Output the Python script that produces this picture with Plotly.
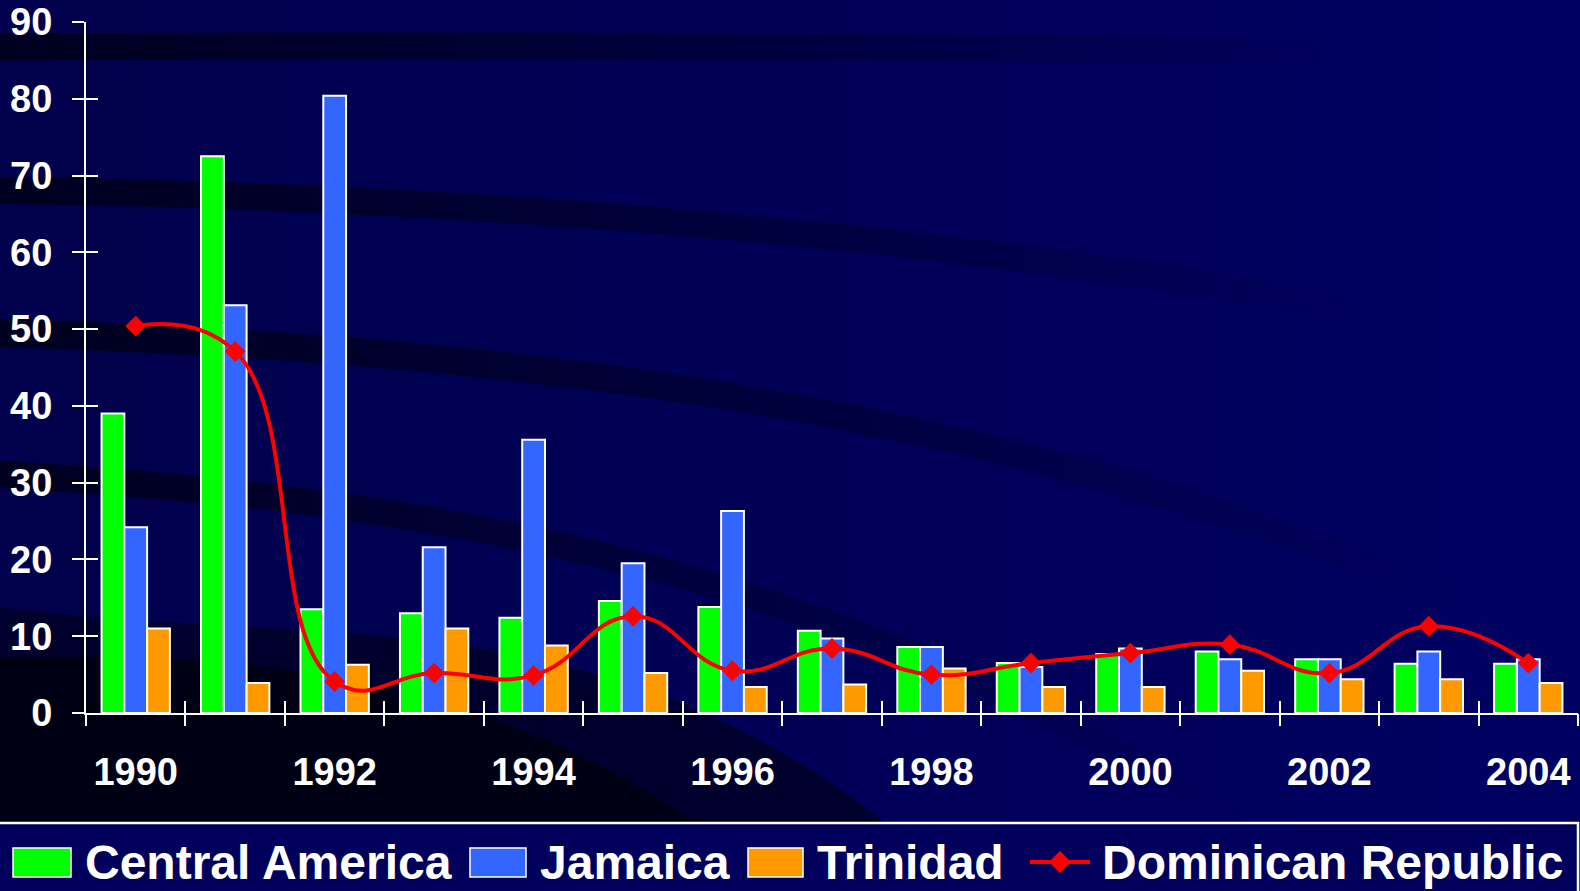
import base64
import struct
import zlib

import numpy as np
import plotly.graph_objects as go

# ---- data -------------------------------------------------------------
years = list(range(1990, 2005))
central_america = [39.0, 72.5, 13.5, 13.0, 12.4, 14.6, 13.8, 10.7, 8.6, 6.5, 7.7, 8.0, 7.0, 6.4, 6.4]
jamaica = [24.2, 53.1, 80.4, 21.6, 35.6, 19.5, 26.3, 9.7, 8.6, 6.0, 8.4, 7.0, 7.0, 8.0, 7.0]
trinidad = [11.0, 3.9, 6.3, 11.0, 8.8, 5.2, 3.4, 3.7, 5.8, 3.4, 3.4, 5.5, 4.4, 4.4, 3.9]
dominican_republic = [50.4, 47.1, 4.1, 5.2, 4.9, 12.6, 5.5, 8.4, 5.0, 6.5, 7.8, 8.9, 5.2, 11.3, 6.5]

series_names = ["Central America", "Jamaica", "Trinidad", "Dominican Republic"]
y_ticks = list(range(0, 91, 10))
x_label_years = list(range(1990, 2005, 2))

# ---- page geometry ----------------------------------------------------
W, H = 1580, 891
ML, MR, MT, MB = 86, 2, 22, 178
PW, PH = W - ML - MR, H - MT - MB

GREEN, BLUE, ORANGE, RED = "#00ff00", "#3366ff", "#ff9900", "#ff0000"
FONT = "Liberation Sans, Arial, sans-serif"


def px_x(p):
    return (p - ML) / PW


def px_y(p):
    return (H - MB - p) / PH


# ---- slide background (navy with dark swooshes) ----------------------
def curve(points, x):
    xs, ys = zip(*points)
    coef = np.polyfit(xs, ys, min(3, len(xs) - 1))
    return np.polyval(coef, x)


def background():
    x = np.arange(W, dtype=float)[None, :]
    y = np.arange(H, dtype=float)[:, None]
    blue = 0x4c + (0x62 - 0x4c) * (x / W) + 0 * y
    out = blue.copy()

    bands = [
        ([(0, 46.5), (600, 46), (1000, 48), (1500, 52)], 13.5, 0, 1350),
        ([(0, 190), (300, 198), (600, 216), (1000, 255), (1300, 300), (1556, 347)], 13.5, 0, 1380),
        ([(0, 333), (400, 352), (600, 381), (1174, 496), (1404, 578)], 14, 0, 1450),
        ([(0, 475), (408, 508), (600, 568), (800, 606), (1000, 690), (1150, 770)], 13.5, 0, 1250),
    ]
    for pts, hw, f0, f1 in bands:
        yc = curve(pts, x)
        cov = np.clip(hw + 0.5 - np.abs(y - yc), 0, 1)
        fade = np.clip((f1 - x) / (f1 - f0), 0, 1)
        a = cov * fade
        out = out * (1 - a) + 0x20 * a

    regions = [
        ([(0, 607), (320, 630), (640, 690), (800, 760), (880, 820)], 0x2c),
        ([(0, 657), (300, 672), (500, 720), (640, 790), (700, 825)], 0x14),
    ]
    for pts, shade in regions:
        yb = curve(pts, x)
        limit = pts[-1][0] + 40
        yb = np.where(x > limit, 1e5, yb)
        a = np.clip(y - yb + 0.5, 0, 1)
        out = out * (1 - a) + shade * a

    rgb = np.zeros((H, W, 3), dtype=np.uint8)
    rgb[..., 2] = np.clip(out, 0, 255).astype(np.uint8)
    return rgb


def png_uri(rgb):
    h, w, _ = rgb.shape
    raw = b"".join(b"\x00" + rgb[i].tobytes() for i in range(h))

    def chunk(tag, data):
        body = tag + data
        return struct.pack(">I", len(data)) + body + struct.pack(">I", zlib.crc32(body) & 0xFFFFFFFF)

    png = (b"\x89PNG\r\n\x1a\n"
           + chunk(b"IHDR", struct.pack(">IIBBBBB", w, h, 8, 2, 0, 0, 0))
           + chunk(b"IDAT", zlib.compress(raw, 9))
           + chunk(b"IEND", b""))
    return "data:image/png;base64," + base64.b64encode(png).decode()


# ---- traces -----------------------------------------------------------
fig = go.Figure()
bar_line = dict(color="white", width=2)
for name, vals, col in [(series_names[0], central_america, GREEN),
                        (series_names[1], jamaica, BLUE),
                        (series_names[2], trinidad, ORANGE)]:
    fig.add_trace(go.Bar(x=years, y=vals, name=name,
                         marker=dict(color=col, line=bar_line)))

fig.add_trace(go.Scatter(
    x=years, y=dominican_republic, name=series_names[3], mode="lines+markers",
    line=dict(color=RED, width=4, shape="spline", smoothing=1.3),
    marker=dict(symbol="diamond", size=16, color=RED),
))

# empty traces so the tick-only overlay axes get drawn
fig.add_trace(go.Scatter(x=[], y=[], xaxis="x2", yaxis="y", showlegend=False, hoverinfo="skip"))
fig.add_trace(go.Scatter(x=[], y=[], xaxis="x3", yaxis="y", showlegend=False, hoverinfo="skip"))
fig.add_trace(go.Scatter(x=[], y=[], xaxis="x", yaxis="y2", showlegend=False, hoverinfo="skip"))

# ---- axes -------------------------------------------------------------
x_range = [years[0] - 0.5, years[-1] + 0.5]
boundaries = [v - 0.5 for v in years] + [years[-1] + 0.5]
tick_font = dict(family=FONT, size=38, color="white", weight="bold")

common_x = dict(range=x_range, showgrid=False, zeroline=False, fixedrange=True)
fig.update_layout(
    xaxis=dict(**common_x, tickvals=x_label_years, ticktext=[str(v) for v in x_label_years],
               ticks="", tickfont=tick_font, ticklabelstandoff=24,
               showline=True, linecolor="white", linewidth=2),
    xaxis2=dict(**common_x, overlaying="x", anchor="y", side="bottom",
                tickvals=boundaries, ticks="outside", ticklen=12, tickwidth=2,
                tickcolor="white", showticklabels=False, showline=False),
    xaxis3=dict(**common_x, overlaying="x", anchor="y", side="bottom",
                tickvals=boundaries, ticks="inside", ticklen=12, tickwidth=2,
                tickcolor="white", showticklabels=False, showline=False),
    yaxis=dict(range=[0, 90], tickvals=y_ticks, ticks="outside", ticklen=12, tickwidth=2,
               tickcolor="white", tickfont=tick_font, ticklabelstandoff=12,
               showline=True, linecolor="white", linewidth=2,
               showgrid=False, zeroline=False, fixedrange=True),
    yaxis2=dict(range=[0, 90], overlaying="y", anchor="x", side="left",
                tickvals=y_ticks, ticks="inside", ticklen=12, tickwidth=2,
                tickcolor="white", showticklabels=False, showline=False,
                showgrid=False, zeroline=False, fixedrange=True),
)

# ---- legend band ------------------------------------------------------
shapes = [dict(type="rect", xref="paper", yref="paper",
               x0=px_x(-10), x1=px_x(1578), y0=px_y(823), y1=px_y(905),
               line=dict(color="white", width=2.5), fillcolor="#00005c", layer="below")]
annotations = []
swatches = [(13, 71, GREEN), (470, 526, BLUE), (748, 803, ORANGE)]
for x0, x1, col in swatches:
    shapes.append(dict(type="rect", xref="paper", yref="paper",
                       x0=px_x(x0), x1=px_x(x1), y0=px_y(848), y1=px_y(877),
                       line=dict(color="white", width=1.5), fillcolor=col))
shapes.append(dict(type="line", xref="paper", yref="paper",
                   x0=px_x(1030), x1=px_x(1090), y0=px_y(862), y1=px_y(862),
                   line=dict(color=RED, width=4)))
cx, cy, r = 1060, 862, 11
shapes.append(dict(type="path", xref="paper", yref="paper",
                   path=f"M {px_x(cx - r)} {px_y(cy)} L {px_x(cx)} {px_y(cy - r)} "
                        f"L {px_x(cx + r)} {px_y(cy)} L {px_x(cx)} {px_y(cy + r)} Z",
                   line=dict(color=RED, width=0), fillcolor=RED))
for name, left in zip(series_names, [83, 538, 815, 1100]):
    annotations.append(dict(text=name, xref="paper", yref="paper",
                            x=px_x(left), y=px_y(862), xanchor="left", yanchor="middle",
                            showarrow=False,
                            font=dict(family=FONT, size=48, color="white", weight="bold")))

fig.update_layout(
    width=W, height=H,
    margin=dict(l=ML, r=MR, t=MT, b=MB, pad=0),
    paper_bgcolor="#00004e", plot_bgcolor="rgba(0,0,0,0)",
    barmode="group", bargap=0.313, bargroupgap=0,
    showlegend=False,
    shapes=shapes, annotations=annotations,
    images=[dict(source=png_uri(background()), xref="paper", yref="paper",
                 x=-ML / PW, y=1 + MT / PH, sizex=W / PW, sizey=H / PH,
                 xanchor="left", yanchor="top", sizing="stretch", layer="below")],
)

fig.write_html("out.html", config={"displayModeBar": False})
